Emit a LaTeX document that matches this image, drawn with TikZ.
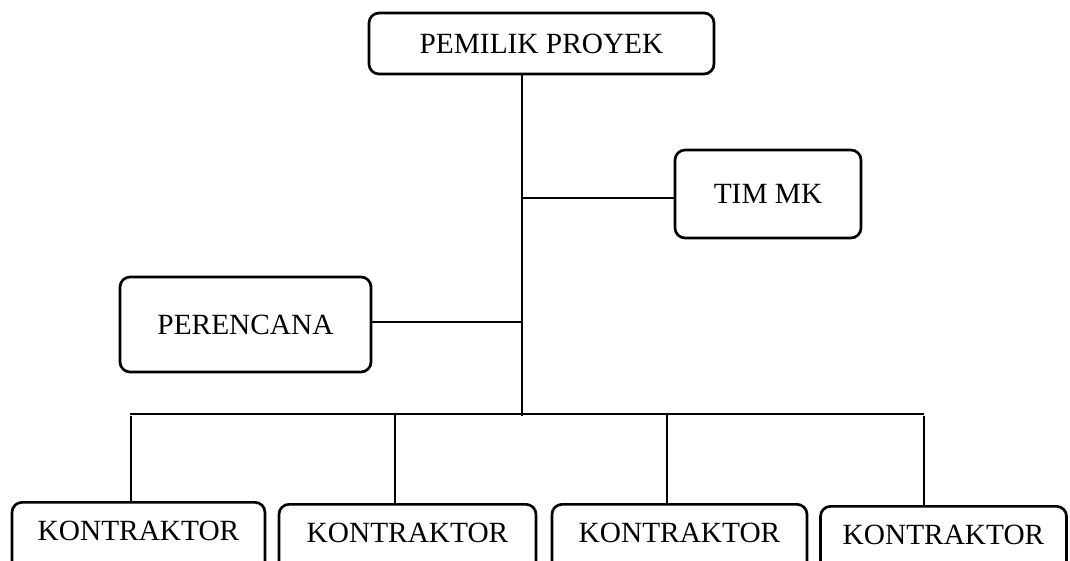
\documentclass[tikz,border=0pt]{standalone}
\usepackage{fontspec}
\setmainfont{Liberation Serif}
\begin{document}
\begin{tikzpicture}[x=0.75pt,y=-0.75pt,
  box/.style={draw=black,line width=2pt,rounded corners=7.5pt,inner sep=0pt,font=\fontsize{22}{26}\selectfont},
  kbox/.style={box,anchor=north,text height=28.5pt,text depth=25pt},
  conn/.style={line width=1.6pt}]
\useasboundingbox (0,0) rectangle (1070,560);
\clip (0,0) rectangle (1070,560);
\node[box,minimum width=258.75pt,minimum height=45.75pt] (pemilik) at (541.5,43.5) {PEMILIK PROYEK};
\node[box,minimum width=139.5pt,minimum height=66pt] (timmk) at (768,194) {TIM MK};
\node[box,minimum width=188.25pt,minimum height=71.25pt] (perencana) at (245.5,324.5) {PERENCANA};
\node[kbox,minimum width=189.75pt] (k1) at (138.5,501) {KONTRAKTOR};
\node[kbox,minimum width=192.75pt] (k2) at (407.5,503) {KONTRAKTOR};
\node[kbox,minimum width=191.25pt] (k3) at (679.5,503) {KONTRAKTOR};
\node[kbox,minimum width=184.5pt] (k4) at (943.5,505) {KONTRAKTOR};
\coordinate (trunkend) at (522,416);
\coordinate (jt) at (522,198);
\coordinate (jp) at (522,322);
\coordinate (b0) at (130,414);
\coordinate (b5) at (924,414);
\coordinate (d1) at (131,416);
\coordinate (d2) at (395,414);
\coordinate (d3) at (667,414);
\coordinate (d4) at (924,416);
\draw[conn] (pemilik.south -| trunkend) -- (trunkend);
\draw[conn] (jt) -- (jt -| timmk.west);
\draw[conn] (jp) -- (jp -| perencana.east);
\draw[conn] (b0) -- (b5);
\draw[conn] (d1) -- (d1 |- k1.north);
\draw[conn] (d2) -- (d2 |- k2.north);
\draw[conn] (d3) -- (d3 |- k3.north);
\draw[conn] (d4) -- (d4 |- k4.north);
\end{tikzpicture}
\end{document}
